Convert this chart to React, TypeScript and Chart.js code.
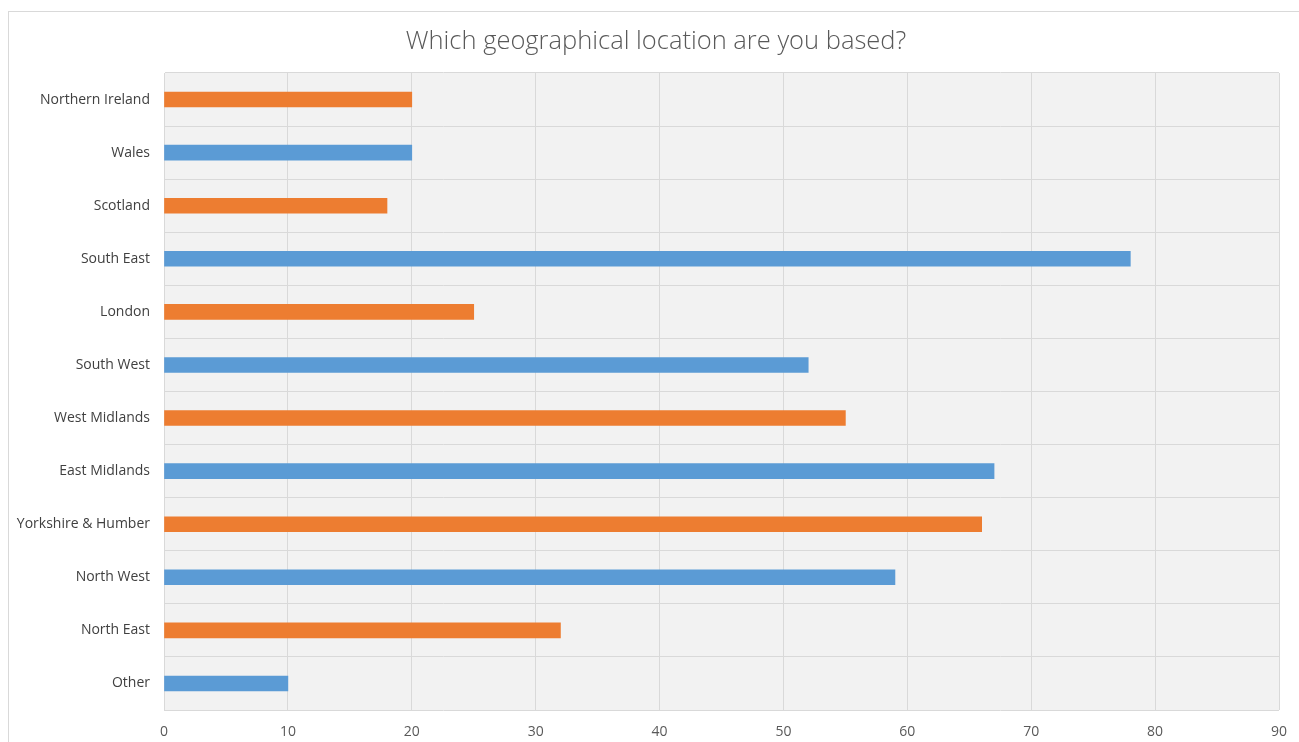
import React, { useEffect, useRef } from "react";
import { Chart, registerables } from "chart.js";

Chart.register(...registerables);

const categories = [
  "Northern Ireland",
  "Wales",
  "Scotland",
  "South East",
  "London",
  "South West",
  "West Midlands",
  "East Midlands",
  "Yorkshire & Humber",
  "North West",
  "North East",
  "Other",
];
const values = [20, 20, 18, 78, 25, 52, 55, 67, 66, 59, 32, 10];
const barColors = [
  "#ED7D31", "#5B9BD5", "#ED7D31", "#5B9BD5", "#ED7D31", "#5B9BD5",
  "#ED7D31", "#5B9BD5", "#ED7D31", "#5B9BD5", "#ED7D31", "#5B9BD5",
];
const titleText = "Which geographical location are you based?";

const plotBg = {
  id: "plotBg",
  beforeDraw(chart: any) {
    const { ctx, chartArea } = chart;
    ctx.save();
    ctx.fillStyle = "#F2F2F2";
    ctx.fillRect(chartArea.left, chartArea.top, chartArea.right - chartArea.left, chartArea.bottom - chartArea.top);
    ctx.restore();
  },
  afterDraw(chart: any) {
    const { ctx } = chart;
    ctx.save();
    ctx.fillStyle = "#595959";
    ctx.font = "300 25.5px 'Open Sans'";
    ctx.textAlign = "center";
    ctx.textBaseline = "middle";
    ctx.fillText(titleText, 656, 42);
    ctx.restore();
  },
};

export default function App() {
  const ref = useRef<HTMLCanvasElement>(null);
  useEffect(() => {
    const chart = new Chart(ref.current!, {
      type: "bar",
      data: {
        labels: categories,
        datasets: [
          {
            data: values,
            backgroundColor: barColors,
            barThickness: 15,
          },
        ],
      },
      options: {
        animation: false,
        responsive: false,
        indexAxis: "y",
        layout: { padding: { left: 0, right: 20, top: 73, bottom: 0 } },
        plugins: {
          legend: { display: false },
          tooltip: { enabled: false },
          title: { display: false },
        },
        scales: {
          x: {
            min: 0,
            max: 90,
            ticks: {
              stepSize: 10,
              color: "#595959",
              font: { family: "'Open Sans'", size: 14 },
              padding: 14,
            },
            grid: { color: "#D9D9D9", drawTicks: false },
            border: { display: false },
            afterFit(scale: any) {
              scale.height = 32;
              scale.paddingLeft = 0;
              scale.paddingRight = 0;
            },
          },
          y: {
            ticks: {
              color: "#404040",
              font: { family: "'Open Sans'", size: 14 },
              padding: 14,
            },
            grid: { color: "#D9D9D9", drawTicks: false, offset: true },
            border: { display: true, color: "#D9D9D9" },
            afterFit(scale: any) {
              scale.width = 164;
            },
          },
        },
      },
      plugins: [plotBg],
    });
    return () => chart.destroy();
  }, []);
  return (
    <>
      <div
        style={{
          position: "fixed",
          left: 8,
          top: 11,
          width: 1300,
          height: 800,
          borderTop: "1px solid #D9D9D9",
          borderLeft: "1px solid #D9D9D9",
          background: "#FFFFFF",
        }}
      />
      <canvas
        ref={ref}
        width={1299}
        height={742}
        style={{ position: "fixed", left: 0, top: 0, width: 1299, height: 742 }}
      />
    </>
  );
}
